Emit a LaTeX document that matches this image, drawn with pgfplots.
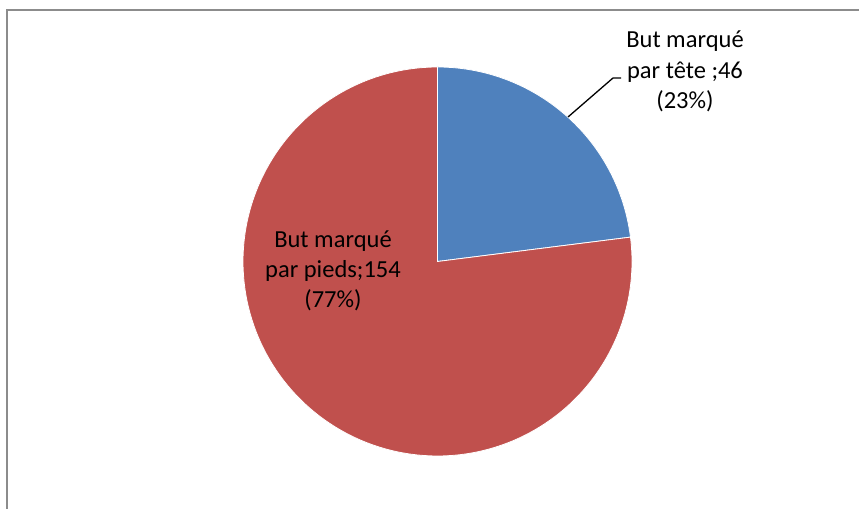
\documentclass[border=0pt]{standalone}
\usepackage{pgfplots}
\usepackage{pgfplotstable}
\pgfplotsset{compat=1.18}
\usepackage{fontspec}
\setmainfont{Carlito}
\definecolor{pieblue}{HTML}{4F81BD}
\definecolor{piered}{HTML}{C0504D}
\definecolor{framegray}{HTML}{8C8C8C}
\pgfplotstableread{
part value
tete 46
pieds 154
}\piedata
\begin{document}%
\begin{tikzpicture}[x=1bp,y=1bp]
\pgfplotstablegetelem{0}{value}\of\piedata \let\vA\pgfplotsretval
\pgfplotstablegetelem{1}{value}\of\piedata \let\vB\pgfplotsretval
\pgfmathsetmacro{\tot}{\vA+\vB}
\pgfmathsetmacro{\fA}{\vA/\tot}
\pgfmathsetmacro{\fB}{\vB/\tot}
\pgfmathsetmacro{\aA}{90-360*\fA}
\pgfmathsetmacro{\aB}{\aA-360*\fB}
\path[use as bounding box] (0,0) rectangle (859,509);
\begin{scope}
\clip (0,0) rectangle (859,509);
\draw[framegray, line width=1.6bp] (7,-20) -- (7,499) -- (880,499);
\end{scope}
\begin{axis}[at={(437.5bp,247.5bp)}, anchor=center,
  scale only axis, width=389bp, height=389bp,
  xmin=-1, xmax=1, ymin=-1, ymax=1, hide axis, clip=false]
\addplot[fill=pieblue, draw=white, line width=0.8bp, domain=\aA:90, samples=120, variable=\t]
  ({cos(\t)},{sin(\t)}) -- (axis cs:0,0) -- cycle;
\addplot[fill=piered, draw=white, line width=0.8bp, domain=\aB:\aA, samples=240, variable=\t]
  ({cos(\t)},{sin(\t)}) -- (axis cs:0,0) -- cycle;
\end{axis}
\draw[black, line width=1.3bp] (568,392) -- (613,431) -- (621,431);
\begin{scope}[every node/.style={inner sep=0pt, anchor=base, font=\fontsize{24.5bp}{30bp}\selectfont}]
\node at (685,461) {But marqué};
\node at (685,430) {par tête ;46};
\node at (685,400) {(23\%)};
\node at (333,261) {But marqué};
\node at (333,231) {par pieds;154};
\node at (333,201) {(77\%)};
\end{scope}
\end{tikzpicture}%
\end{document}
